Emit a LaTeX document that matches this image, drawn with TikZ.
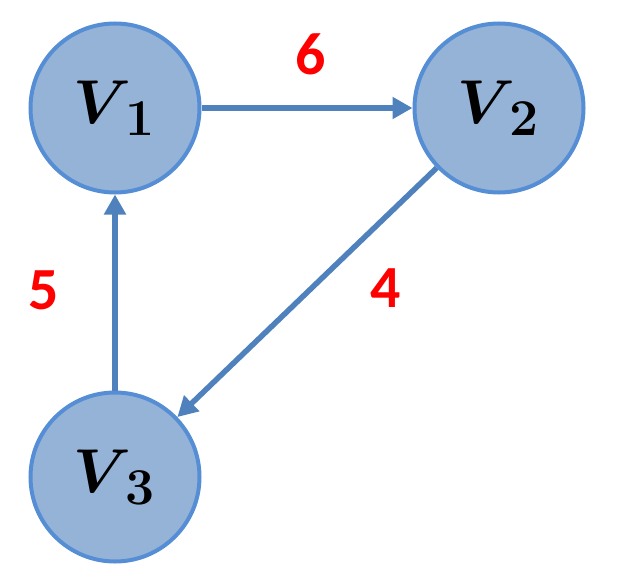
\documentclass[tikz,border=0pt]{standalone}
\usepackage{bm}
\usepackage{graphicx}
\usepackage{fontspec}
\newfontfamily\numfont{Carlito}
\definecolor{vfill}{HTML}{95B3D7}
\definecolor{vline}{HTML}{558ED5}
\definecolor{arcline}{HTML}{4F81BD}
\usetikzlibrary{arrows.meta}
\newcommand{\vlabel}[1]{\scalebox{2.5}{\Huge$\bm{V_{\,#1}}$}}

\begin{document}
\begin{tikzpicture}[x=1bp,y=-1bp,
    vertex/.style={circle,draw=vline,fill=vfill,line width=4bp,minimum size=169bp,inner sep=0pt},
    arc/.style={draw=arcline,line width=5.5bp,-{Triangle[length=20bp,width=21bp]}},
    weight/.style={red,font=\numfont\bfseries\fontsize{60}{72}\selectfont}]
  \useasboundingbox (0,0) rectangle (617,583);
  \node[vertex] (v1) at (115,108) {\vlabel{1}};
  \node[vertex] (v2) at (499,108) {\vlabel{2}};
  \node[vertex] (v3) at (115,477) {\vlabel{3}};
  \draw[arc] (v1) -- (v2);
  \draw[arc] (v2) -- (v3);
  \draw[arc] (v3) -- (v1);
  \node[weight] (w6) at (311,54) {6};
  \node[weight] (w5) at (44,290) {5};
  \node[weight] (w4) at (386,288) {4};
\end{tikzpicture}
\end{document}
